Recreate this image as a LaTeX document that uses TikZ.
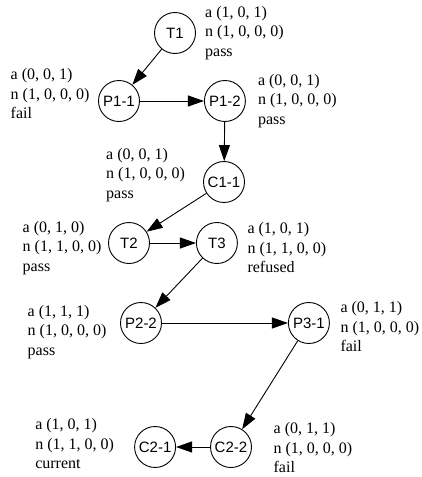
\documentclass[tikz,border=0pt]{standalone}
\usepackage{fontspec}
\setmainfont{Liberation Serif}
\setsansfont{Liberation Sans}
\usetikzlibrary{arrows.meta,positioning}

\begin{document}
\begin{tikzpicture}[
  x=1pt, y=1pt,
  state/.style={draw, circle, line width=0.9pt, minimum size=41pt, inner sep=0pt,
    font=\fontsize{15}{18}\selectfont\sffamily},
  info/.style={inner sep=0pt, align=left, font=\fontsize{16}{19.5}\selectfont\rmfamily},
  arr/.style={line width=0.9pt, -{Triangle[length=16pt, width=11pt]}}
]
  \useasboundingbox (0,0) rectangle (422,-477);

  % --- Zustaende ---
  \node[state] (T1)  at (175,-33)  {T1};
  \node[state] (P11) at (119,-101) {P1-1};
  \node[state] (P12) [right=64pt of P11] {P1-2};
  \node[state] (C11) at (224,-182) {C1-1};
  \node[state] (T2)  at (129,-243) {T2};
  \node[state] (T3)  [right=46pt of T2] {T3};
  \node[state] (P22) at (141,-323) {P2-2};
  \node[state] (P31) [right=126pt of P22] {P3-1};
  \node[state] (C22) at (231,-447) {C2-2};
  \node[state] (C21) [left=34pt of C22] {C2-1};

  % --- Beschriftungen ---
  \node[info] (iT1)  [right=9pt of T1] {a (1, 0, 1)\\n (1, 0, 0, 0)\\pass};
  \node[info] (iP11) [left=8.5pt of P11, yshift=7pt] {a (0, 0, 1)\\n (1, 0, 0, 0)\\fail};
  \node[info] (iP12) [right=12pt of P12] {a (0, 0, 1)\\n (1, 0, 0, 0)\\pass};
  \node[info] (iC11) [left=18pt of C11, yshift=7pt] {a (0, 0, 1)\\n (1, 0, 0, 0)\\pass};
  \node[info] (iT2)  [left=6.5pt of T2, yshift=-5pt] {a (0, 1, 0)\\n (1, 1, 0, 0)\\pass};
  \node[info] (iT3)  [right=9.5pt of T3, yshift=-5pt] {a (1, 0, 1)\\n (1, 1, 0, 0)\\refused};
  \node[info] (iP22) [left=13.5pt of P22, yshift=-9pt] {a (1, 1, 1)\\n (1, 0, 0, 0)\\pass};
  \node[info] (iP31) [right=10.5pt of P31, yshift=-4pt] {a (0, 1, 1)\\n (1, 0, 0, 0)\\fail};
  \node[info] (iC21) [left=20pt of C21, yshift=3pt] {a (1, 0, 1)\\n (1, 1, 0, 0)\\current};
  \node[info] (iC22) [right=21.5pt of C22, yshift=-1pt] {a (0, 1, 1)\\n (1, 0, 0, 0)\\fail};

  % --- Uebergaenge ---
  \draw[arr] (T1)  -- (P11);
  \draw[arr] (P11) -- (P12);
  \draw[arr] (P12) -- (C11);
  \draw[arr] (C11) -- (T2);
  \draw[arr] (T2)  -- (T3);
  \draw[arr] (T3)  -- (P22);
  \draw[arr] (P22) -- (P31);
  \draw[arr] (P31) -- (C22);
  \draw[arr] (C22) -- (C21);
\end{tikzpicture}
\end{document}
